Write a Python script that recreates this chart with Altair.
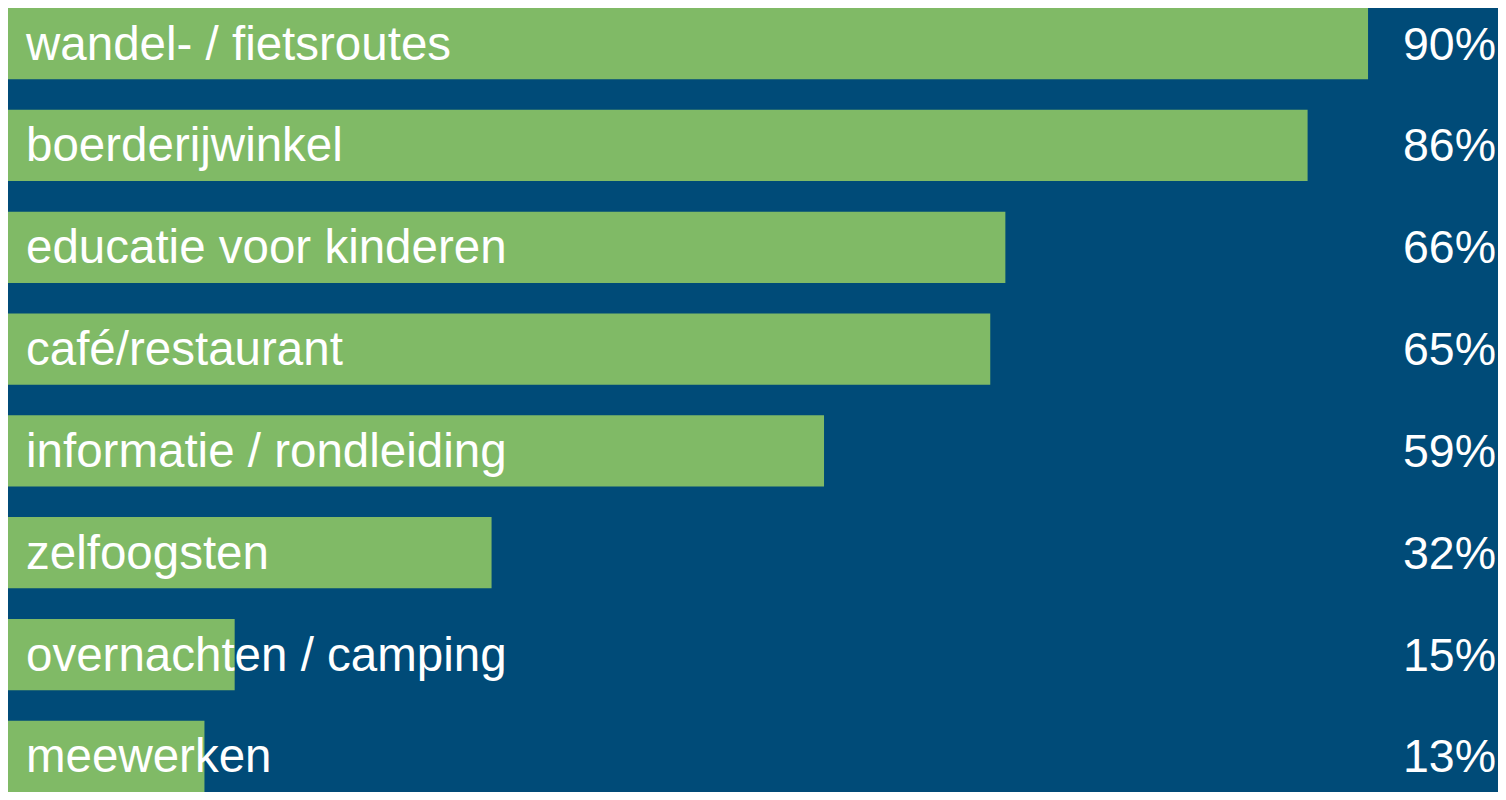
import altair as alt
import pandas as pd

categories = [
    "wandel- / fietsroutes",
    "boerderijwinkel",
    "educatie voor kinderen",
    "café/restaurant",
    "informatie / rondleiding",
    "zelfoogsten",
    "overnachten / camping",
    "meewerken",
]
bar_length = [90, 86, 66, 65, 54, 32, 15, 13]
shown_pct = ["90%", "86%", "66%", "65%", "59%", "32%", "15%", "13%"]

df = pd.DataFrame({"cat": categories, "len": bar_length, "pct": shown_pct})

W = 1490
H = 784
BG = "#004B78"
GREEN = "#80BA66"
FONT = "Liberation Sans"

y = alt.Y("cat:N", sort=categories, axis=None,
          scale=alt.Scale(paddingInner=0.3, paddingOuter=0.0))
xs = alt.Scale(domain=[0, 98.6], nice=False, zero=True)

bars = alt.Chart(df).mark_bar(color=GREEN).encode(
    x=alt.X("len:Q", scale=xs, axis=None),
    y=y,
)

labels = alt.Chart(df).mark_text(
    align="left", baseline="middle", dx=18, dy=2, color="white",
    font=FONT, fontSize=47.5,
).encode(
    x=alt.datum(0, scale=xs),
    y=y,
    text="cat:N",
)

values = alt.Chart(df).mark_text(
    align="right", baseline="middle", dy=2, color="white",
    font=FONT, fontSize=46.5,
).encode(
    x=alt.value(W - 2),
    y=y,
    text="pct:N",
)

chart = alt.layer(bars, labels, values).properties(
    width=W, height=H, background=BG, padding=0
).configure_view(stroke=None)

chart.save("out.html", embed_options={"renderer": "svg", "actions": False})
